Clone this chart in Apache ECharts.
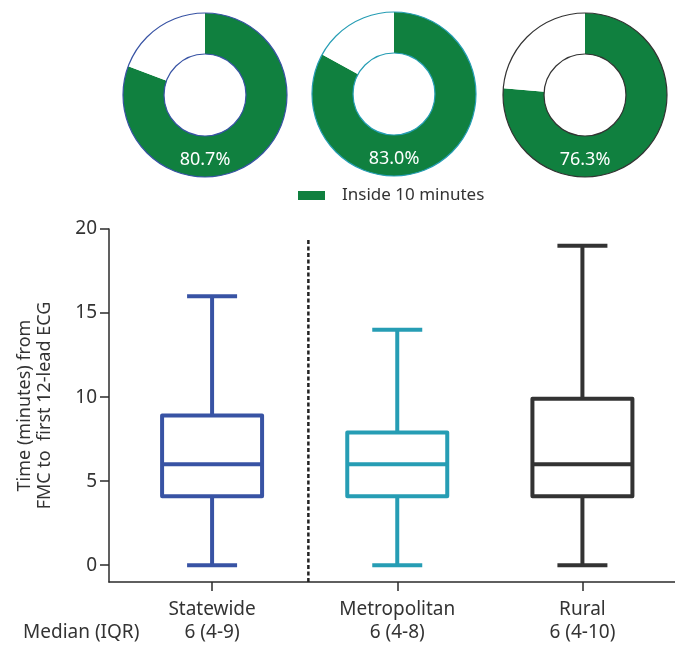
<!DOCTYPE html>
<html><head><meta charset="utf-8">
<script src="https://cdn.jsdelivr.net/npm/echarts@6/dist/echarts.min.js"></script>
<style>html,body{margin:0;padding:0;background:#fff}#c{width:675px;height:645px}</style>
</head><body><div id="c"></div>
<script>
// ---- data ----
const categories = ['Statewide', 'Metropolitan', 'Rural'];
const medianIqrLabels = ['6 (4-9)', '6 (4-8)', '6 (4-10)'];
const whiskerLow = [0, 0, 0];
const q1 = [4.1, 4.1, 4.1];
const median = [6, 6, 6];
const q3 = [8.9, 7.9, 9.9];
const whiskerHigh = [16, 14, 19];
const insidePct = [80.7, 83.0, 76.3];
const yTicks = [0, 5, 10, 15, 20];
const separatorX = [0.52, 0.52];      // in category units, between Statewide and Metropolitan
const separatorY = [-1, 19.5];

// ---- styles / layout ----
const FONT = 'Noto Sans';
const groupColors = ['#3853A4', '#269DB4', '#333333'];
const green = '#10803F';
const pieCenters = [[205, 95], [394, 94], [585, 95]];
const pieRadius = [41, 82];
const axisColor = '#2b2b2b';
const textColor = '#333';

const chart = echarts.init(document.getElementById('c'), null, {renderer: 'canvas'});

const boxData = categories.map((c, i) => ({
  value: [i, whiskerLow[i], q1[i], median[i], q3[i], whiskerHigh[i]],
  itemStyle: {color: groupColors[i]}
}));

function renderBox(params, api) {
  const x = api.value(0);
  const pLow = api.coord([x, api.value(1)]);
  const pQ1 = api.coord([x, api.value(2)]);
  const pMed = api.coord([x, api.value(3)]);
  const pQ3 = api.coord([x, api.value(4)]);
  const pHigh = api.coord([x, api.value(5)]);
  const band = api.size([1, 0])[0];
  const bw = band * 0.54, cw = bw / 2, cx = pMed[0];
  const color = api.visual('color');
  const st = {stroke: color, lineWidth: 4, fill: 'none', lineJoin: 'round', lineCap: 'butt'};
  const line = (x1, y1, x2, y2) => ({type: 'line', shape: {x1, y1, x2, y2}, style: st});
  return {
    type: 'group',
    children: [
      {type: 'rect', shape: {x: cx - bw / 2, y: pQ3[1], width: bw, height: pQ1[1] - pQ3[1]}, style: st},
      line(cx - bw / 2, pMed[1], cx + bw / 2, pMed[1]),
      line(cx, pQ3[1], cx, pHigh[1]),
      line(cx, pQ1[1], cx, pLow[1]),
      line(cx - cw / 2, pHigh[1], cx + cw / 2, pHigh[1]),
      line(cx - cw / 2, pLow[1], cx + cw / 2, pLow[1])
    ]
  };
}

const series = [
  {
    type: 'custom', xAxisIndex: 0, yAxisIndex: 0, silent: true,
    renderItem: renderBox, data: boxData, encode: {x: 0, y: [1, 2, 3, 4, 5]}
  },
  {
    type: 'line', xAxisIndex: 1, yAxisIndex: 0, silent: true, symbol: 'none',
    data: separatorX.map((x, i) => [x, separatorY[i]]),
    lineStyle: {type: [4, 2.5], width: 2.5, color: '#222'}
  }
];

insidePct.forEach((p, i) => {
  series.push({
    type: 'pie', center: pieCenters[i], radius: pieRadius, startAngle: 90, silent: true,
    label: {show: false}, labelLine: {show: false}, emphasis: {disabled: true},
    data: [
      {name: 'Inside 10 minutes', value: p, itemStyle: {color: green}},
      {name: 'Outside 10 minutes', value: 100 - p, itemStyle: {color: '#ffffff'}}
    ]
  });
  series.push({
    type: 'pie', center: pieCenters[i], radius: pieRadius, startAngle: 90, silent: true,
    labelLine: {show: false}, emphasis: {disabled: true},
    itemStyle: {color: 'rgba(0,0,0,0)', borderColor: groupColors[i], borderWidth: 1.2},
    label: {show: true, position: 'inside', formatter: d => d.value.toFixed(1) + '%',
            color: '#fff', fontSize: 18, fontFamily: FONT},
    data: [{name: 'ring' + i, value: p}]
  });
});

const option = {
  animation: false,
  textStyle: {fontFamily: FONT},
  legend: {
    data: ['Inside 10 minutes'], left: 298, top: 187, padding: 0,
    itemWidth: 27, itemHeight: 9, icon: 'rect', selectedMode: false,
    textStyle: {fontSize: 17, color: textColor, fontFamily: FONT, padding: [0, 0, 0, 12]}
  },
  grid: [
    {left: 119.5, right: 0, top: 229, bottom: 63},
    {left: 109, right: 0, top: 229, bottom: 63}
  ],
  xAxis: [
    {
      type: 'category', gridIndex: 0, data: categories,
      axisLine: {show: false, onZero: false},
      axisTick: {show: true, alignWithLabel: true, length: 9, lineStyle: {color: axisColor, width: 1.5}},
      axisLabel: {formatter: (v, i) => v + '\n' + medianIqrLabels[i], fontSize: 19, lineHeight: 23,
                  color: textColor, margin: 16, fontFamily: FONT},
      splitLine: {show: false}
    },
    {type: 'value', gridIndex: 0, min: -0.5, max: 2.5, show: false},
    {
      type: 'value', gridIndex: 1, min: 0, max: 1,
      axisLine: {show: true, onZero: false, lineStyle: {color: axisColor, width: 1.5}},
      axisTick: {show: false}, axisLabel: {show: false}, splitLine: {show: false}
    }
  ],
  yAxis: [
    {type: 'value', gridIndex: 0, min: -1, max: 20, show: false},
    {
      type: 'value', gridIndex: 1, min: -1, max: 20,
      axisLine: {show: true, onZero: false, lineStyle: {color: axisColor, width: 1.5}},
      axisTick: {show: true, length: 9, customValues: yTicks, lineStyle: {color: axisColor, width: 1.5}},
      axisLabel: {customValues: yTicks, margin: 12, fontSize: 19, color: textColor, fontFamily: FONT},
      splitLine: {show: false}
    }
  ],
  graphic: [
    {
      type: 'text', x: 35, y: 405.5, rotation: Math.PI / 2, silent: true,
      style: {text: 'Time (minutes) from\nFMC to  first 12-lead ECG', fontSize: 18, lineHeight: 20,
              align: 'center', verticalAlign: 'middle', fill: textColor, fontFamily: FONT}
    },
    {
      type: 'text', x: 23, y: 633, silent: true,
      style: {text: 'Median (IQR)', fontSize: 19, align: 'left', verticalAlign: 'middle',
              fill: textColor, fontFamily: FONT}
    }
  ],
  series
};
chart.setOption(option);
</script></body></html>
